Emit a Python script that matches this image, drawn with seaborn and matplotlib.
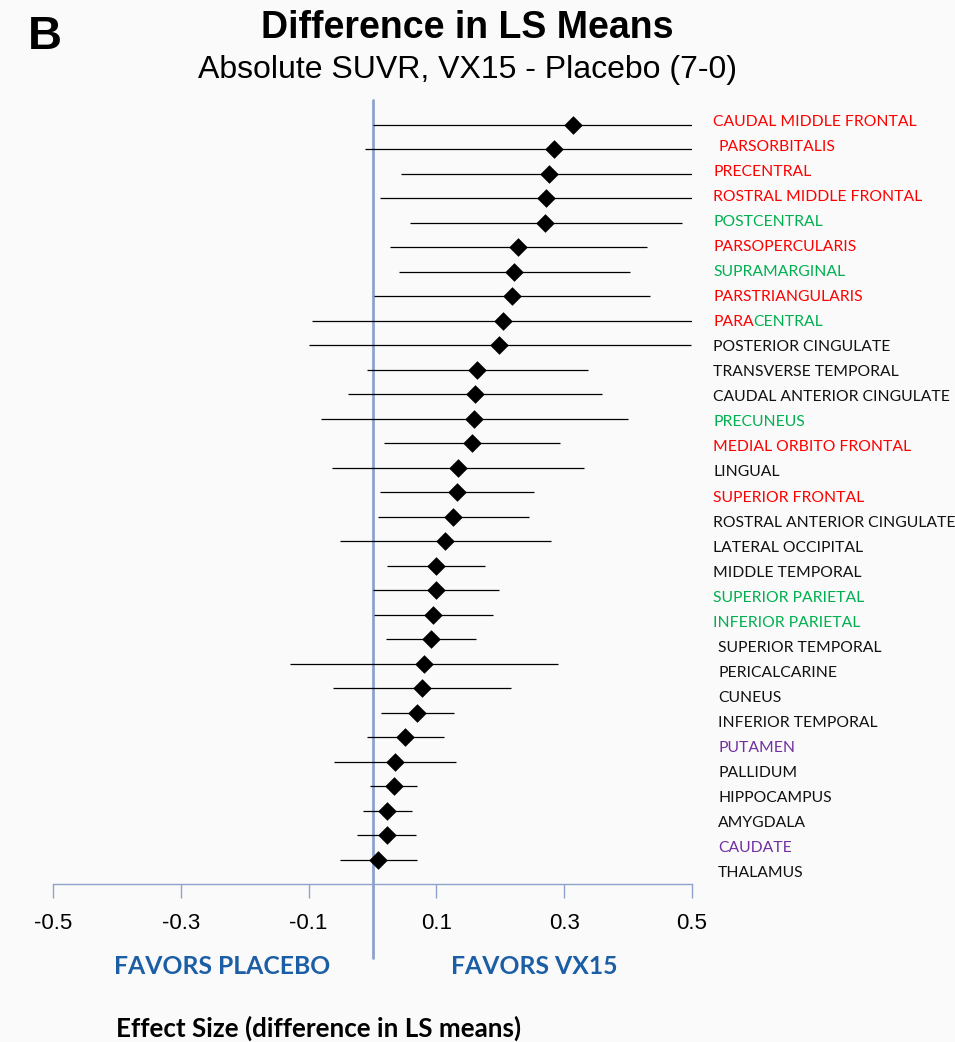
import numpy as np
import pandas as pd
import matplotlib
matplotlib.use('Agg')
import matplotlib.pyplot as plt
import matplotlib.transforms as mtransforms
import seaborn as sns

regions = ['CAUDAL MIDDLE FRONTAL', 'PARSORBITALIS', 'PRECENTRAL', 'ROSTRAL MIDDLE FRONTAL',
           'POSTCENTRAL', 'PARSOPERCULARIS', 'SUPRAMARGINAL', 'PARSTRIANGULARIS',
           'PARACENTRAL', 'POSTERIOR CINGULATE', 'TRANSVERSE TEMPORAL',
           'CAUDAL ANTERIOR CINGULATE', 'PRECUNEUS', 'MEDIAL ORBITO FRONTAL', 'LINGUAL',
           'SUPERIOR FRONTAL', 'ROSTRAL ANTERIOR CINGULATE', 'LATERAL OCCIPITAL',
           'MIDDLE TEMPORAL', 'SUPERIOR PARIETAL', 'INFERIOR PARIETAL', 'SUPERIOR TEMPORAL',
           'PERICALCARINE', 'CUNEUS', 'INFERIOR TEMPORAL', 'PUTAMEN', 'PALLIDUM',
           'HIPPOCAMPUS', 'AMYGDALA', 'CAUDATE', 'THALAMUS']
estimate = [0.313, 0.284, 0.276, 0.271, 0.270, 0.228, 0.222, 0.219, 0.205, 0.198, 0.164,
            0.160, 0.159, 0.156, 0.134, 0.132, 0.126, 0.114, 0.099, 0.099, 0.095, 0.092,
            0.081, 0.077, 0.070, 0.051, 0.035, 0.033, 0.023, 0.022, 0.008]
lower = [0.000, -0.011, 0.044, 0.011, 0.058, 0.028, 0.042, 0.003, -0.094, -0.100, -0.009,
         -0.038, -0.081, 0.018, -0.064, 0.012, 0.009, -0.051, 0.023, 0.000, 0.002, 0.021,
         -0.129, -0.062, 0.013, -0.008, -0.060, -0.004, -0.015, -0.024, -0.051]
upper = [0.500, 0.500, 0.500, 0.500, 0.484, 0.429, 0.403, 0.435, 0.500, 0.498, 0.337,
         0.359, 0.400, 0.293, 0.331, 0.252, 0.245, 0.280, 0.176, 0.198, 0.188, 0.162,
         0.291, 0.216, 0.127, 0.112, 0.130, 0.069, 0.062, 0.068, 0.069]
# lobe colour group of each label
groups = ['frontal', 'frontal', 'frontal', 'frontal', 'parietal', 'frontal', 'parietal',
          'frontal', 'mixed', 'other', 'other', 'other', 'parietal', 'frontal', 'other',
          'frontal', 'other', 'other', 'other', 'parietal', 'parietal', 'other', 'other',
          'other', 'other', 'subcortical', 'other', 'other', 'other', 'subcortical', 'other']
indented = {'PARSORBITALIS', 'SUPERIOR TEMPORAL', 'PERICALCARINE', 'CUNEUS',
            'INFERIOR TEMPORAL', 'PUTAMEN', 'PALLIDUM', 'HIPPOCAMPUS', 'AMYGDALA',
            'CAUDATE', 'THALAMUS'}
ticks = [-0.5, -0.3, -0.1, 0.1, 0.3, 0.5]

colours = {'frontal': '#FF0000', 'parietal': '#00B050', 'other': '#111111',
           'subcortical': '#7030A0'}
bg = '#FAFAFA'
axis_col = '#8FA2CC'
lab_size = 11.3

df = pd.DataFrame({'region': regions, 'est': estimate, 'lo': lower, 'hi': upper,
                   'group': groups})
df['row'] = np.arange(len(df))

sns.set_style('white')
plt.rcParams['font.family'] = ['Lato', 'DejaVu Sans']
plt.rcParams['text.color'] = 'black'

fig = plt.figure(figsize=(9.55, 10.42), dpi=100, facecolor=bg)
W, H = 955, 1042
ax = fig.add_axes([53 / W, (H - 884) / H, 639 / W, 784 / H])
ax.set_facecolor(bg)

# confidence intervals and point estimates
ax.hlines(df['row'], df['lo'], df['hi'], color='black', lw=0.9, zorder=2)
ax.axvline(0, ymin=-0.094, ymax=1, color=axis_col, lw=2, clip_on=False, zorder=1)
sns.scatterplot(data=df, x='est', y='row', marker='D', s=90, color='black',
                edgecolor='black', linewidth=0, ax=ax, zorder=3, legend=False)

ax.set_xlim(-0.5, 0.5)
ax.set_ylim(30.98, -1.02)
ax.set_xticks(ticks)
ax.set_xticklabels([f'{t:.1f}' for t in ticks], family='Liberation Sans',
                   fontsize=16, color='black')
ax.set_yticks([])
ax.tick_params(axis='x', bottom=True, direction='out', length=10, width=1,
               color=axis_col, pad=11)
for s in ['top', 'right', 'left']:
    ax.spines[s].set_visible(False)
ax.spines['bottom'].set_color(axis_col)
ax.spines['bottom'].set_linewidth(1)
ax.set_xlabel('')
ax.set_ylabel('')

renderer = fig.canvas.get_renderer()


def text_width(s):
    t = ax.text(0, 0, s, fontsize=lab_size)
    w = t.get_window_extent(renderer=renderer).width
    t.remove()
    return w


# region labels to the right (label column is spaced slightly wider than the rows)
label_step = 25.03 / 24.5
for _, r in df.iterrows():
    x = 0.541 if r['region'] in indented else 0.533
    y = r['row'] * label_step - 0.12
    if r['group'] == 'mixed':
        ax.text(x, y, 'PARA', color='#FF0000', fontsize=lab_size, va='center',
                ha='left', clip_on=False)
        dx = text_width('PARACENTRAL') - text_width('CENTRAL')
        tr = mtransforms.offset_copy(ax.transData, fig=fig, x=dx * 72 / fig.dpi,
                                     y=0, units='points')
        ax.text(x, y, 'CENTRAL', color='#00B050', fontsize=lab_size, va='center',
                ha='left', clip_on=False, transform=tr)
    else:
        ax.text(x, y, r['region'], color=colours[r['group']], fontsize=lab_size,
                va='center', ha='left', clip_on=False)

fig.text(28 / W, 1 - 37 / H, 'B', family='Liberation Sans', weight='bold', fontsize=34,
         va='center', ha='left')
fig.text(467 / W, 1 - 28 / H, 'Difference in LS Means', family='Liberation Sans',
         weight='bold', fontsize=27, va='center', ha='center')
fig.text(467 / W, 1 - 70 / H, 'Absolute SUVR, VX15 - Placebo (7-0)',
         family='Liberation Sans', fontsize=23, va='center', ha='center')
fig.text(222 / W, 1 - 966 / H, 'FAVORS PLACEBO', color='#1B5EA6', weight='bold',
         fontsize=17.8, va='center', ha='center')
fig.text(534 / W, 1 - 966 / H, 'FAVORS VX15', color='#1B5EA6', weight='bold',
         fontsize=17.8, va='center', ha='center')
fig.text(319 / W, 1 - 1028 / H, 'Effect Size (difference in LS means)', weight='bold',
         fontsize=18.7, va='center', ha='center')

fig.savefig('out.png', dpi=100, facecolor=bg)
